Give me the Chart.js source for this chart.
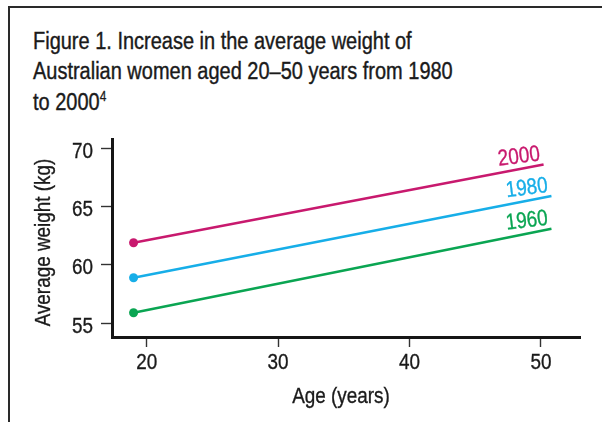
<!DOCTYPE html>
<html>
<head>
<meta charset="utf-8">
<script src="https://cdn.jsdelivr.net/npm/chart.js@4/dist/chart.umd.min.js"></script>
<style>
  html, body { margin: 0; padding: 0; background: #ffffff; }
  body { width: 602px; height: 422px; position: relative; overflow: hidden; }
  .frame {
    position: absolute; left: 8px; top: 6px; width: 620px; height: 440px;
    border-top: 2px solid #2a2a2a; border-left: 2px solid #2a2a2a;
  }
  .title {
    position: absolute; left: 33px; top: 25.5px; white-space: nowrap;
    font-family: 'Liberation Sans', Arial, sans-serif;
    font-size: 23.5px; line-height: 30.6px; color: #1a1a1a;
    transform: scaleX(0.85); transform-origin: 0 0;
    -webkit-text-stroke: 0.4px #1a1a1a;
  }
  .title sup { font-size: 14px; vertical-align: 9px; line-height: 0; -webkit-text-stroke: 0.3px #1a1a1a; }
  #chart { position: absolute; left: 0; top: 0; }
</style>
</head>
<body>
<div class="frame"></div>
<div class="title">Figure 1. Increase in the average weight of<br>Australian women aged 20–50 years from 1980<br>to 2000<sup>4</sup></div>
<canvas id="chart" width="602" height="422"></canvas>
<script>
// Survey years, one line each
const years = ['2000', '1980', '1960'];
// Age (years) at the start and end of each line
const ages2000 = [19, 50.2];
const ages1980 = [19, 50.8];
const ages1960 = [19, 50.8];
// Average weight (kg) at those ages
const weights2000 = [61.9, 68.6];
const weights1980 = [58.9, 65.9];
const weights1960 = [55.9, 63.1];
// Axis ticks
const xTicks = [20, 30, 40, 50];
const yTicks = [55, 60, 65, 70];

const colors = ['#c8196e', '#17aee8', '#0aa552'];
const TEXT = '#1a1a1a';
const FONT = "22.5px 'Liberation Sans', Arial, sans-serif";
const NARROW = 0.84;   // horizontal squeeze giving a condensed face

function toPoints(xs, ys) { return xs.map((x, i) => ({ x: x, y: ys[i] })); }
const series = [
  toPoints(ages2000, weights2000),
  toPoints(ages1980, weights1980),
  toPoints(ages1960, weights1960)
];

// Draws condensed text anchored at (x, y), optionally rotated
function narrowText(ctx, text, x, y, align, rot, color) {
  ctx.save();
  ctx.translate(x, y);
  if (rot) ctx.rotate(rot);
  ctx.scale(NARROW, 1);
  ctx.font = FONT;
  ctx.fillStyle = color || TEXT;
  ctx.strokeStyle = color || TEXT;
  ctx.lineWidth = 0.35;
  ctx.textAlign = align;
  ctx.textBaseline = 'alphabetic';
  ctx.fillText(text, 0, 0);
  ctx.strokeText(text, 0, 0);
  ctx.restore();
}

// Tick labels, axis titles and the year written at the end of each line
const textLayer = {
  id: 'textLayer',
  afterDraw(chart) {
    const ctx = chart.ctx;
    const xs = chart.scales.x, ys = chart.scales.y;

    ys.ticks.forEach(t => {
      narrowText(ctx, String(t.value), 93, ys.getPixelForValue(t.value) + 9.5, 'right');
    });
    xs.ticks.forEach(t => {
      narrowText(ctx, String(t.value), xs.getPixelForValue(t.value), 369, 'center');
    });
    narrowText(ctx, 'Age (years)', 341, 403, 'center');
    narrowText(ctx, 'Average weight (kg)', 49.5, 242.5, 'center', -Math.PI / 2);

    chart.data.datasets.forEach((ds, i) => {
      const pts = chart.getDatasetMeta(i).data;
      const end = pts[pts.length - 1];
      narrowText(ctx, ds.label, end.x - 3, end.y - 4, 'right', -7 * Math.PI / 180, ds.borderColor);
    });
  }
};

new Chart(document.getElementById('chart'), {
  type: 'scatter',
  data: {
    datasets: series.map((pts, i) => ({
      label: years[i],
      data: pts,
      showLine: true,
      borderColor: colors[i],
      backgroundColor: colors[i],
      borderWidth: 2.5,
      pointRadius: c => c.dataIndex === 0 ? 4.5 : 0,
      pointHoverRadius: c => c.dataIndex === 0 ? 4.5 : 0,
      pointBorderWidth: 0,
      clip: false
    }))
  },
  options: {
    responsive: false,
    animation: false,
    events: [],
    layout: { padding: { left: 0, top: 139, right: 21.5, bottom: 0 } },
    plugins: { legend: { display: false }, tooltip: { enabled: false } },
    scales: {
      x: {
        type: 'linear',
        min: 17.36,
        max: 53.01,
        afterFit: s => { s.height = 85; },
        afterBuildTicks: s => { s.ticks = xTicks.map(v => ({ value: v })); },
        border: { display: true, color: '#161616', width: 3 },
        grid: { drawOnChartArea: false, drawTicks: true, tickLength: 10, tickColor: '#333333', tickWidth: 1.4 },
        ticks: { display: false },
        title: { display: false }
      },
      y: {
        type: 'linear',
        min: 53.82,
        max: 70.79,
        afterFit: s => { s.width = 112; },
        afterBuildTicks: s => { s.ticks = yTicks.map(v => ({ value: v })); },
        border: { display: true, color: '#161616', width: 3 },
        grid: { drawOnChartArea: false, drawTicks: true, tickLength: 11, tickColor: '#333333', tickWidth: 1.4 },
        ticks: { display: false },
        title: { display: false }
      }
    }
  },
  plugins: [textLayer]
});
</script>
</body>
</html>
